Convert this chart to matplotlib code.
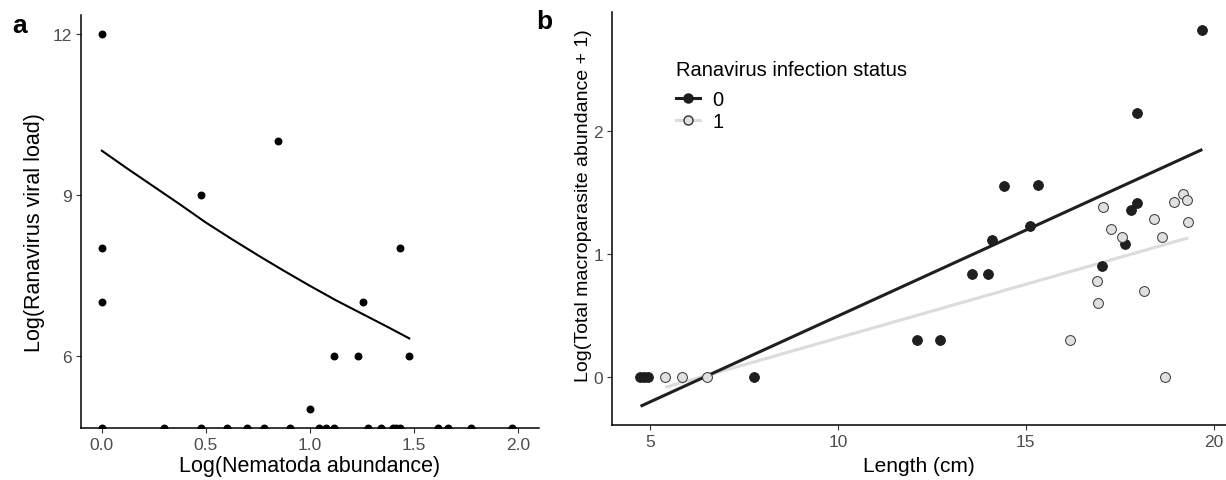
import numpy as np
from matplotlib import pyplot as plt
from matplotlib.lines import Line2D

plt.rcParams['font.family'] = ['Liberation Sans', 'DejaVu Sans']

# panel a: log10 nematoda abundance vs log ranavirus viral load
nema_x = [0.0, 0.0, 0.0, 0.477, 0.845, 1.0, 1.114, 1.230, 1.255, 1.431, 1.477]
viral_y = [12, 8, 7, 9, 10, 5, 6, 6, 7, 8, 6]
# hosts with zero viral load (log = -Inf, drawn on the panel edge)
zero_x = [0.0, 0.301, 0.477, 0.602, 0.699, 0.778, 0.903, 1.041, 1.079, 1.114,
          1.279, 1.342, 1.398, 1.415, 1.431, 1.613, 1.663, 1.771, 1.968]
curve_x = [0.0, 0.125, 0.25, 0.375, 0.5, 0.625, 0.75, 0.875, 1.0, 1.125, 1.25, 1.375, 1.477]
curve_y = [9.82, 9.48, 9.15, 8.82, 8.48, 8.17, 7.87, 7.58, 7.30, 7.03, 6.78, 6.53, 6.32]

# panel b: length vs log macroparasite abundance, by infection status
len_0 = [4.73, 4.85, 4.94, 7.78, 12.12, 12.71, 13.57, 13.99, 14.10, 14.42,
         15.11, 15.34, 17.03, 17.64, 17.79, 17.95, 17.96, 19.70]
par_0 = [0, 0, 0, 0, 0.30, 0.30, 0.84, 0.84, 1.11, 1.55,
         1.23, 1.56, 0.90, 1.08, 1.36, 1.41, 2.14, 2.82]
len_1 = [5.41, 5.86, 6.53, 16.18, 16.90, 16.93, 17.05, 17.26, 17.56, 18.15,
         18.42, 18.62, 18.70, 18.95, 19.18, 19.30, 19.33]
par_1 = [0, 0, 0, 0.30, 0.78, 0.60, 1.38, 1.20, 1.14, 0.70,
         1.28, 1.14, 0, 1.42, 1.49, 1.44, 1.26]
fit0_x = [4.75, 19.70]
fit0_y = [-0.235, 1.848]
fit1_x = [5.41, 19.33]
fit1_y = [-0.081, 1.131]

W, H = 1226, 481
fig = plt.figure(figsize=(W / 100, H / 100), dpi=100)


def px_axes(left, top, right, bottom):
    return fig.add_axes([left / W, 1 - bottom / H, (right - left) / W, (bottom - top) / H])


def style(ax):
    for s in ['top', 'right']:
        ax.spines[s].set_visible(False)
    for s in ['left', 'bottom']:
        ax.spines[s].set_linewidth(1.1)
    ax.tick_params(length=3.5, width=0.8, colors='#333333', labelcolor='#4d4d4d',
                   labelsize=12.5, pad=3)


ax1 = px_axes(81, 16, 539, 429)
ax1.set_xlim(-0.1, 2.1)
ax1.set_ylim(4.65, 12.35)
ax1.scatter(nema_x, viral_y, s=22, color='black', zorder=3)
ax1.scatter(zero_x, [4.65] * len(zero_x), s=22, color='black', zorder=3, clip_on=True)
ax1.plot(curve_x, curve_y, color='black', lw=1.5)
ax1.set_xticks([0.0, 0.5, 1.0, 1.5, 2.0])
ax1.set_xticklabels(['0.0', '0.5', '1.0', '1.5', '2.0'])
ax1.set_yticks([6, 9, 12])
ax1.set_xlabel('Log(Nematoda abundance)', fontsize=15.5)
ax1.set_ylabel('Log(Ranavirus viral load)', fontsize=15.5)
ax1.xaxis.set_label_coords(0.5, -38 / 413)
ax1.yaxis.set_label_coords(-46 / 458, 0.476)
ax1.xaxis.label.set_va('center')
ax1.yaxis.label.set_va('center')
style(ax1)

ax2 = px_axes(612, 13, 1226, 426)
ax2.set_xlim(3.99, 20.33)
ax2.set_ylim(-0.387, 2.963)
ax2.plot(fit1_x, fit1_y, color='#dcdcdc', lw=2.2, zorder=2, solid_capstyle='butt')
ax2.plot(fit0_x, fit0_y, color='#1f1f1f', lw=2.2, zorder=2, solid_capstyle='butt')
ax2.scatter(len_0, par_0, s=50, color='#1f1f1f', edgecolor='#1a1a1a', linewidth=0.6, zorder=3)
ax2.scatter(len_1, par_1, s=50, color='#e0e0e0', edgecolor='#333333', linewidth=0.7, zorder=3)
ax2.set_xticks([5, 10, 15, 20])
ax2.set_yticks([0, 1, 2])
ax2.set_xlabel('Length (cm)', fontsize=15)
ax2.set_ylabel('Log(Total macroparasite abundance + 1)', fontsize=14)
ax2.xaxis.set_label_coords(0.5, -40 / 413)
ax2.yaxis.set_label_coords(-28 / 614, 0.533)
ax2.xaxis.label.set_va('center')
ax2.yaxis.label.set_va('center')
style(ax2)

handles = [
    Line2D([], [], color='#1f1f1f', lw=2.2, marker='o', markersize=6.5,
           markerfacecolor='#1f1f1f', markeredgecolor='#1a1a1a'),
    Line2D([], [], color='#dcdcdc', lw=2.2, marker='o', markersize=6.5,
           markerfacecolor='#e0e0e0', markeredgecolor='#333333'),
]
leg = ax2.legend(handles, ['0', '1'], title='Ranavirus infection status',
                 loc='upper left', bbox_to_anchor=(668 / W, 1 - 53 / H),
                 bbox_transform=fig.transFigure, frameon=False, fontsize=14.5,
                 title_fontsize=14.5, handlelength=1.2, handletextpad=0.6,
                 labelspacing=0.15, borderaxespad=0)
leg._legend_box.align = 'left'
leg._legend_box.sep = 8

fig.text(12 / W, 1 - 26 / H, 'a', fontsize=19, fontweight='bold', va='center')
fig.text(536 / W, 1 - 22 / H, 'b', fontsize=19, fontweight='bold', va='center')

fig.savefig('out.png', dpi=100)
